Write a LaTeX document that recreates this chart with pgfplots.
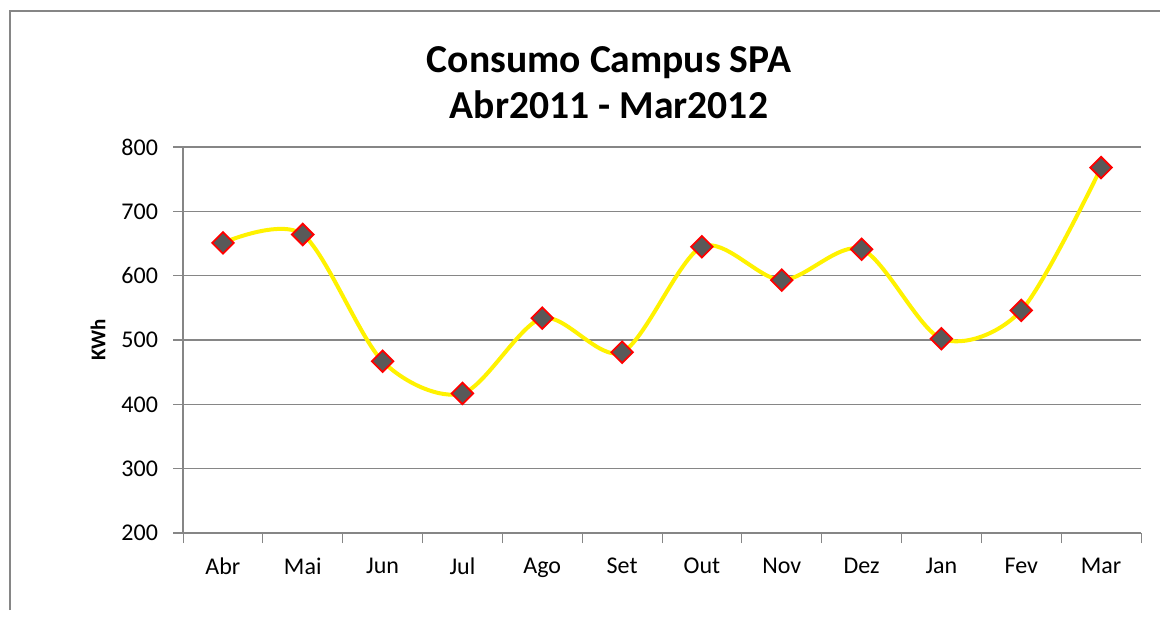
\documentclass[border=0pt]{standalone}
\usepackage{fontspec}
\setmainfont{Carlito}
\usepackage{pgfplots}
\pgfplotsset{compat=1.18}
\definecolor{gridgray}{HTML}{868686}
\definecolor{markgray}{HTML}{595959}
\begin{document}
\begin{tikzpicture}[x=1pt,y=1pt]
\useasboundingbox (0,0) rectangle (580,308.5);
\draw[gridgray,line width=1pt] (5,3.5) -- (5,303) -- (580,303);
\node[font=\fontsize{19.8}{23}\selectfont\bfseries] at (304.5,277) {Consumo Campus SPA};
\node[font=\fontsize{19.8}{23}\selectfont\bfseries] at (304.5,256) {Abr2011 - Mar2012};
\begin{axis}[
  at={(91.5pt,42pt)}, anchor=south west,
  scale only axis, width=479pt, height=193pt,
  xmin=-0.5, xmax=11.5, ymin=200, ymax=800,
  axis lines*=left,
  axis line style={gridgray,line width=0.75pt},
  xtick={-0.5,0.5,...,11.5},
  xticklabels={},
  xtick style={gridgray,line width=0.5pt},
  x tick label style={yshift=0pt},
  extra x ticks={0,...,11},
  extra x tick labels={Abr,Mai,Jun,Jul,Ago,Set,Out,Nov,Dez,Jan,Fev,Mar},
  extra x tick style={major tick length=0pt, xticklabel style={yshift=-9pt}},
  ytick={200,300,...,800},
  ymajorgrids,
  grid style={gridgray,line width=0.75pt},
  major tick length=5pt,
  tick align=outside,
  ytick style={gridgray,line width=0.75pt},
  tick label style={font=\fontsize{12}{14}\selectfont},
  /pgf/number format/assume math mode=true,
  yticklabel style={xshift=-4pt},
  ylabel={\bfseries KWh},
  ylabel style={font=\fontsize{10.5}{12}\selectfont, at={(axis description cs:-0.0887,0.5)}, anchor=center},
  clip=false,
]
\addplot[color=yellow, line width=2pt, smooth, tension=0.5,
  mark=square*, mark size=3.8pt,
  mark options={rotate=45, fill=markgray, draw=red, line width=0.9pt}]
  coordinates {(0,651) (1,664) (2,467) (3,417) (4,534) (5,481) (6,645) (7,593) (8,641) (9,502) (10,546) (11,768)};
\end{axis}
\end{tikzpicture}
\end{document}
